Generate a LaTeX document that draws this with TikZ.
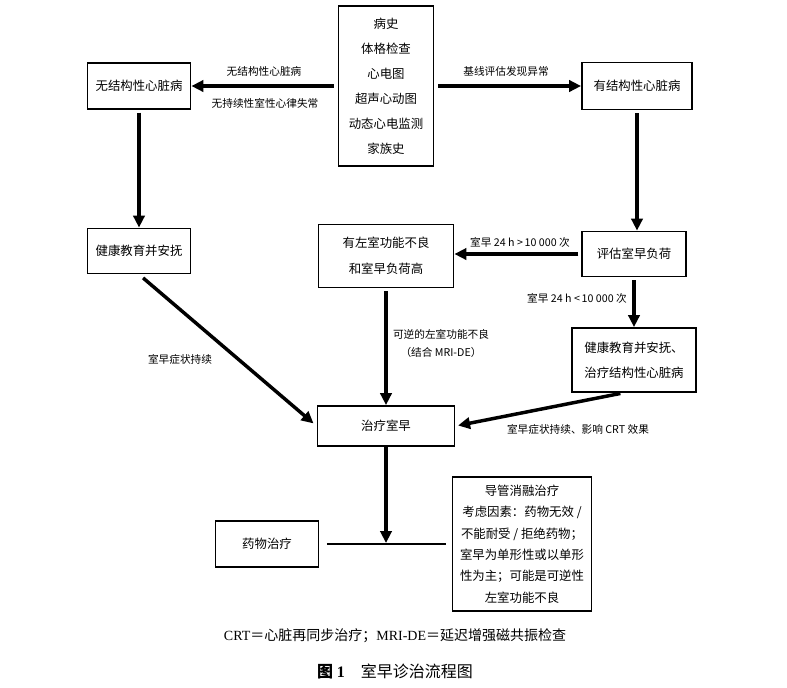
\documentclass[tikz,border=0pt]{standalone}
\usepackage{fontspec}
\setmainfont{Noto Sans CJK SC}
\newfontfamily\capfont{Liberation Serif}
\usetikzlibrary{arrows.meta,positioning}
\begin{document}
\begin{tikzpicture}[x=0.75pt,y=-0.75pt,
  box/.style={draw,line width=1.4pt,inner sep=0pt,align=center,
    font=\fontsize{9.3}{18.75}\selectfont},
  flow/.style={line width=2.6pt,-{Triangle[length=9pt,width=8.5pt]}},
  lbl/.style={align=center,font=\fontsize{8}{13.5}\selectfont}]
  \useasboundingbox (0,0) rectangle (787,687);
  \node[box,minimum width=71.25pt,minimum height=120pt] (exam) at (386,86)
    {病史\\体格检查\\心电图\\超声心动图\\动态心电监测\\家族史};
  \node[box,minimum width=77.25pt,minimum height=34.5pt] (nostruct) at (139,86) {无结构性心脏病};
  \node[box,minimum width=82.5pt,minimum height=35.25pt] (struct) at (637,86) {有结构性心脏病};
  \node[box,minimum width=77.25pt,minimum height=33.75pt] (edu) at (139,251) {健康教育并安抚};
  \node[box,minimum width=101.25pt,minimum height=47.25pt,
    font=\fontsize{9.3}{19.5}\selectfont] (lvd) at (386,256) {有左室功能不良\\和室早负荷高};
  \node[box,minimum width=78pt,minimum height=33.75pt] (burden) at (634,254) {评估室早负荷};
  \node[box,minimum width=93pt,minimum height=48pt] (edu2) at (634,360)
    {健康教育并安抚、\\治疗结构性心脏病};
  \node[box,minimum width=102.75pt,minimum height=30pt] (treat) at (386,426) {治疗室早};
  \node[box,minimum width=77.25pt,minimum height=34.5pt] (drug) at (267,544) {药物治疗};
  \node[box,minimum width=104.25pt,minimum height=100.5pt,
    font=\fontsize{9.3}{16}\selectfont] (ablate) at (522,544)
    {导管消融治疗\\考虑因素：药物无效 /\\不能耐受 / 拒绝药物；\\室早为单形性或以单形\\性为主；可能是可逆性\\左室功能不良};
  \coordinate (split) at (386,543);

  \draw[flow,shorten <=3pt] (exam) -- (nostruct);
  \draw[flow,shorten <=3pt] (exam) -- (struct);
  \draw[flow,shorten <=2pt] (nostruct) -- (edu);
  \draw[flow,shorten <=2pt] (struct.south) -- (struct.south |- burden.north);
  \draw[flow,shorten <=2pt] (burden.west) -- (burden.west -| lvd.east);
  \draw[flow,shorten <=2pt] (burden) -- (edu2);
  \draw[flow,shorten <=2pt] (lvd) -- (treat);
  \draw[flow,shorten <=4pt,shorten >=3pt] (edu.south) -- (treat.west);
  \draw[flow,shorten <=2pt,shorten >=2pt] ([xshift=-8.25pt]edu2.south) -- (treat.east);
  \draw[flow] (treat) -- (split);
  \draw[line width=1.1pt,shorten <=5.6pt,shorten >=4.5pt] (drug.east) -- (ablate.west);

  \node[lbl] (nolbl) at (264,71) {无结构性心脏病};
  \node[lbl] (nolbl2) at (265,103) {无持续性室性心律失常};
  \node[lbl] (baselbl) at (506,71) {基线评估发现异常};
  \node[lbl] (highlbl) at (520,242) {室早 24 h >\,10 000 次};
  \node[lbl] (lowlbl) at (577,298) {室早 24 h <\,10 000 次};
  \node[lbl] (revlbl) at (441,343) {可逆的左室功能不良\\（结合 MRI-DE）};
  \node[lbl] (symlbl) at (180,359) {室早症状持续};
  \node[lbl] (crtlbl) at (578,429) {室早症状持续、影响 CRT 效果};

  \node[font=\fontsize{10.5}{12}\selectfont] (note) at (395,636)
    {{\capfont CRT}＝心脏再同步治疗；{\capfont MRI-DE}＝延迟增强磁共振检查};
  \node[font=\fontsize{12}{14}\selectfont] (title) at (395,671)
    {\textbf{图 {\capfont 1}}\quad 室早诊治流程图};
\end{tikzpicture}
\end{document}
